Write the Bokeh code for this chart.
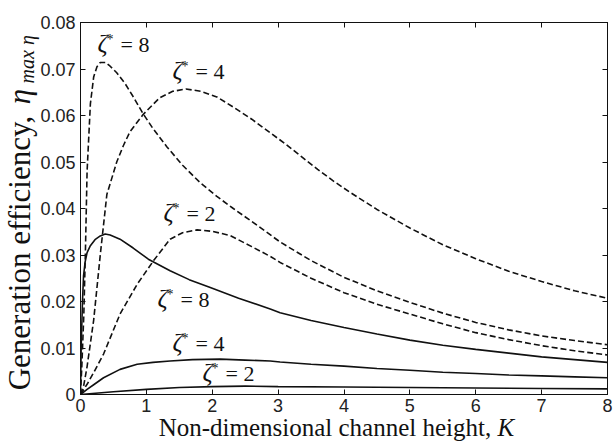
import math
from bokeh.plotting import figure
from bokeh.models import Range1d, FixedTicker, LinearAxis, CustomJSTickFormatter
from bokeh.core.properties import value
from bokeh.embed import file_html
from bokeh.resources import INLINE

# ---------------- data ----------------
x_ticks = [0, 1, 2, 3, 4, 5, 6, 7, 8]
y_ticks = [0, 0.01, 0.02, 0.03, 0.04, 0.05, 0.06, 0.07, 0.08]

# dashed curves
k_d8 = [0, 0.02, 0.05, 0.075, 0.1, 0.15, 0.2, 0.25, 0.3, 0.38, 0.45, 0.55, 0.68, 0.81, 0.95,
        1.1, 1.31, 1.55, 1.82, 2.07, 2.32, 2.7, 3.03, 3.5, 4, 4.5, 5, 5.5, 6, 6.5, 7, 7.5, 8]
eta_d8 = [0, 0.006, 0.017, 0.031, 0.048, 0.0625, 0.0683, 0.0705, 0.0714, 0.0714, 0.0706, 0.0692,
          0.0668, 0.0638, 0.0604, 0.0572, 0.0533, 0.0493, 0.0455, 0.0426, 0.0400, 0.0362, 0.0328,
          0.0288, 0.0252, 0.0223, 0.0198, 0.0175, 0.0155, 0.0139, 0.0126, 0.0116, 0.0107]

k_d4 = [0, 0.05, 0.1, 0.2, 0.3, 0.4, 0.55, 0.65, 0.75, 0.95, 1.2, 1.4, 1.6, 1.83, 2.07, 2.32,
        2.6, 2.83, 3.1, 3.35, 3.6, 3.85, 4.1, 4.5, 5.0, 5.5, 6, 6.5, 7, 7.5, 8]
eta_d4 = [0, 0.002, 0.006, 0.016, 0.030, 0.043, 0.050, 0.0535, 0.0565, 0.0602, 0.0638, 0.0652,
          0.0657, 0.0652, 0.0640, 0.0618, 0.0592, 0.0568, 0.0540, 0.0512, 0.0484, 0.0458,
          0.0434, 0.0398, 0.0358, 0.0322, 0.0292, 0.0265, 0.0243, 0.0223, 0.0207]

k_d2 = [0, 0.1, 0.2, 0.35, 0.6, 0.86, 1.11, 1.36, 1.55, 1.77, 2.0, 2.27, 2.6, 2.88, 3.03, 3.5,
        4, 4.5, 5, 5.5, 6, 6.5, 7, 7.5, 8]
eta_d2 = [0, 0.0022, 0.0047, 0.0087, 0.0173, 0.0237, 0.0288, 0.0334, 0.0348, 0.0354, 0.0351,
          0.0342, 0.0318, 0.0297, 0.0284, 0.0250, 0.0219, 0.0194, 0.0173, 0.0152, 0.0133,
          0.0118, 0.0105, 0.0094, 0.0085]

# solid curves
k_s8 = [0, 0.01, 0.03, 0.046, 0.07, 0.1, 0.15, 0.22, 0.3, 0.375, 0.45, 0.6, 0.8, 1.03, 1.36,
        1.65, 1.97, 2.4, 2.88, 3.03, 3.5, 4, 4.5, 5, 5.5, 6, 6.5, 7, 7.5, 8]
eta_s8 = [0, 0.010, 0.020, 0.0255, 0.0285, 0.0305, 0.032, 0.0333, 0.0341, 0.0345, 0.0343,
          0.0334, 0.0315, 0.0291, 0.0266, 0.0247, 0.0230, 0.0207, 0.0184, 0.0176, 0.0159,
          0.0144, 0.0130, 0.0117, 0.0106, 0.0097, 0.0089, 0.0081, 0.0075, 0.0069]

k_s4 = [0, 0.1, 0.2, 0.35, 0.6, 0.86, 1.1, 1.36, 1.7, 2.12, 2.5, 2.88, 3.03, 3.5, 4, 4.5, 5,
        5.5, 6, 6.5, 7, 7.5, 8]
eta_s4 = [0, 0.0011, 0.0021, 0.0036, 0.0054, 0.0065, 0.0069, 0.0072, 0.0075, 0.0076, 0.0074,
          0.0072, 0.0070, 0.0065, 0.0061, 0.0056, 0.0052, 0.0048, 0.0045, 0.0042, 0.0040,
          0.0038, 0.0036]

k_s2 = [0, 0.5, 1.0, 1.5, 2.0, 2.5, 3, 4, 5, 6, 7, 8]
eta_s2 = [0, 0.0006, 0.0011, 0.0015, 0.0017, 0.0018, 0.0017, 0.0016, 0.0015, 0.0014, 0.0013, 0.0012]

# curve annotations  (zeta* = value)
lab_x = [0.258, 1.397, 1.26, 1.169, 1.397, 1.852]
lab_y = [0.0733, 0.0675, 0.0370, 0.0185, 0.0090, 0.0026]
lab_val = ["8", "4", "2", "8", "4", "2"]

# axis titles (anchor positions in data units, outside the frame)
x_title = "Non-dimensional channel height, "
x_title_var = "K"
x_title_pos = (6.33, -0.0072)
y_title = "Generation efficiency, "
y_title_var = "\u03b7"
y_title_sub = "max \u03b7"
y_title_pos = (-0.926, 0.0009)
y_var_pos = (-0.926, 0.0624)
y_sub_pos = (-0.811, 0.0669)

# ---------------- figure ----------------
INK = "#111111"
p = figure(width=615, height=445, output_backend="svg", toolbar_location=None,
           x_range=Range1d(0, 8), y_range=Range1d(0, 0.08),
           min_border_left=80, min_border_right=8, min_border_top=22, min_border_bottom=51)
p.xgrid.grid_line_color = None
p.ygrid.grid_line_color = None
p.outline_line_color = INK
p.outline_line_width = 1
p.background_fill_color = "white"
p.border_fill_color = "white"

for ax, ticks in ((p.xaxis[0], x_ticks), (p.yaxis[0], y_ticks)):
    ax.ticker = FixedTicker(ticks=ticks)
    ax.major_tick_in = 5
    ax.major_tick_out = 0
    ax.minor_tick_line_color = None
    ax.axis_line_color = INK
    ax.major_tick_line_color = INK
    ax.major_label_text_font = "Liberation Sans"
    ax.major_label_text_font_size = "18px"
    ax.major_label_text_color = "#222222"
p.xaxis[0].major_label_standoff = 4
p.yaxis[0].major_label_standoff = 5
p.yaxis[0].major_label_overrides = {0: "0"}

for loc, ticks in (("above", x_ticks), ("right", y_ticks)):
    ax = LinearAxis(ticker=FixedTicker(ticks=ticks),
                    formatter=CustomJSTickFormatter(code="return ''"),
                    major_tick_in=5, major_tick_out=0, minor_tick_line_color=None,
                    major_label_standoff=0, major_label_text_font_size="0px",
                    axis_line_color=INK, major_tick_line_color=INK)
    p.add_layout(ax, loc)

# curves
for k, eta in ((k_d8, eta_d8), (k_d4, eta_d4), (k_d2, eta_d2)):
    p.line(k, eta, line_color=INK, line_width=1.6, line_dash="6 3")
for k, eta in ((k_s8, eta_s8), (k_s4, eta_s4), (k_s2, eta_s2)):
    p.line(k, eta, line_color=INK, line_width=1.6)

# curve labels
serif = value("Liberation Serif")
p.text(x=lab_x, y=lab_y, text=["\u03b6"] * len(lab_x), text_font=serif,
       text_font_style="italic", text_font_size="25px", text_color=INK, y_offset=-10,
       text_align="left", text_baseline="alphabetic")
p.text(x=lab_x, y=lab_y, text=["*"] * len(lab_x), text_font=serif,
       text_font_size="14px", text_color=INK, x_offset=9, y_offset=-14,
       text_align="left", text_baseline="alphabetic")
p.text(x=lab_x, y=lab_y, text=["= " + v for v in lab_val], text_font=serif,
       text_font_size="22px", text_color=INK, x_offset=23, y_offset=-9,
       text_align="left", text_baseline="alphabetic")

# axis titles drawn as overlay-level text (so they may lie outside the frame)
p.text(x=[x_title_pos[0]], y=[x_title_pos[1]], text=[x_title], text_font=serif,
       text_font_size="25px", text_color=INK, text_align="right",
       text_baseline="alphabetic", level="overlay")
p.text(x=[x_title_pos[0]], y=[x_title_pos[1]], text=[x_title_var], text_font=serif,
       text_font_style="italic", text_font_size="25px", text_color=INK,
       text_align="left", text_baseline="alphabetic", level="overlay")
p.text(x=[y_title_pos[0]], y=[y_title_pos[1]], text=[y_title], text_font=serif,
       text_font_size="31px", text_color=INK, angle=math.pi / 2,
       text_align="left", text_baseline="alphabetic", level="overlay")
p.text(x=[y_var_pos[0]], y=[y_var_pos[1]], text=[y_title_var], text_font=serif,
       text_font_style="italic", text_font_size="31px", text_color=INK, angle=math.pi / 2,
       text_align="left", text_baseline="alphabetic", level="overlay")
p.text(x=[y_sub_pos[0]], y=[y_sub_pos[1]], text=[y_title_sub], text_font=serif,
       text_font_style="italic", text_font_size="20px", text_color=INK, angle=math.pi / 2,
       text_align="left", text_baseline="alphabetic", level="overlay")

open("out.html", "w").write(file_html(p, INLINE))
